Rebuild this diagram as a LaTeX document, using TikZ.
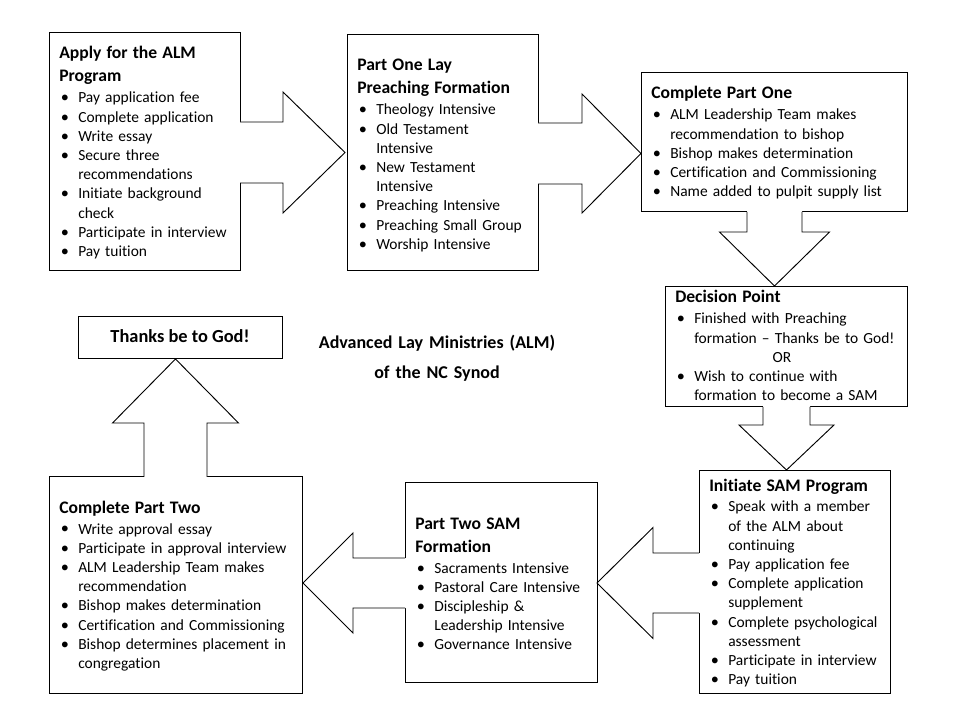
\documentclass[tikz,border=0pt]{standalone}
\usepackage{fontspec}
\setmainfont{Carlito}[Ligatures={NoCommon}]
\setlength\parskip{0pt}
\newlength\itmind \setlength\itmind{14.25pt}
\newcommand\itm[1]{\par\noindent\hangindent=\itmind\relax\hangafter=1\relax\makebox[\itmind][l]{\hspace{1.2pt}\scalebox{1.05}{•}}#1\par}
\newcommand\ttl[1]{{\fontsize{13.2}{17.25}\selectfont\bfseries\noindent #1\par}\vspace{1.35pt}}
% block arrow: base x, base y, angle, head start, length, shaft half, head half
\newcommand\blockarrow[7]{%
\begin{scope}[shift={(#1,#2)}, rotate=#3]
\fill[white] (-1.3,-#6) -- (#4,-#6) -- (#4,-#7) -- (#5,0) -- (#4,#7) -- (#4,#6) -- (-1.3,#6) -- cycle;
\draw[arrowline] (0,-#6) -- (#4,-#6) -- (#4,-#7) -- (#5,0) -- (#4,#7) -- (#4,#6) -- (0,#6);
\end{scope}}
\tikzset{
  box/.style={draw=black, line width=0.75pt, fill=white, anchor=north west, inner sep=0pt, outer sep=0pt},
  arrowline/.style={draw=black, line width=0.7pt, line join=miter},
  txt/.style={anchor=base west, text width=260pt, align=left, inner sep=0pt,
    font=\fontsize{11.6}{14.4}\selectfont},
}
\begin{document}
\begin{tikzpicture}[x=0.75pt,y=-0.75pt]
\useasboundingbox[fill=white] (0,0) rectangle (957,716);
% boxes
\node[box, minimum width=143.25pt, minimum height=178.5pt] (b1) at (49,33) {};
\node[box, minimum width=143.25pt, minimum height=177pt] (b2) at (347,35) {};
\node[box, minimum width=199.5pt, minimum height=104.25pt] (b3) at (641,73) {};
\node[box, minimum width=181.5pt, minimum height=90pt] (b4) at (665,287) {};
\node[box, minimum width=143.25pt, minimum height=166.5pt] (b5) at (699,471) {};
\node[box, minimum width=144pt, minimum height=149.25pt] (b6) at (405,483) {};
\node[box, minimum width=189.75pt, minimum height=162pt] (b7) at (49,477) {};
\node[box, minimum width=153pt, minimum height=31.5pt] (b8) at (78,317) {};
% block arrows
\blockarrow{240}{152.5}{0}{43}{105}{30.5}{60.5}
\blockarrow{538}{153.5}{0}{44}{103}{30.5}{59.5}
\blockarrow{774.5}{212}{-90}{20}{74}{27.5}{55}
\blockarrow{786.5}{407}{-90}{18}{63}{23.5}{47.5}
\blockarrow{699}{583}{180}{46}{102}{30}{55.5}
\blockarrow{405}{583}{180}{52}{102}{25}{50}
\blockarrow{175.5}{477}{90}{54}{118}{31.5}{63}
% texts
\node[txt] (t1) at (59,59) {\ttl{Apply for the ALM\newline Program}\itm{Pay application fee}\itm{Complete application}\itm{Write essay}\itm{Secure three\newline recommendations}\itm{Initiate background\newline check}\itm{Participate in interview}\itm{Pay tuition}};
\node[txt] (t2) at (357,71) {\ttl{Part One Lay\newline Preaching Formation}\itm{Theology Intensive}\itm{Old Testament\newline Intensive}\itm{New Testament\newline Intensive}\itm{Preaching Intensive}\itm{Preaching Small Group}\itm{Worship Intensive}};
\node[txt] (t3) at (651,99) {\ttl{Complete Part One}\itm{ALM Leadership Team makes\newline recommendation to bishop}\itm{Bishop makes determination}\itm{Certification and Commissioning}\itm{Name added to pulpit supply list}};
\node[txt] (t4) at (675,303) {\ttl{Decision Point}\itm{Finished with Preaching\newline formation – Thanks be to God!}\noindent\hspace*{73pt}OR\par\itm{Wish to continue with\newline formation to become a SAM}};
\node[txt] (t5) at (709,491) {\ttl{Initiate SAM Program}\itm{Speak with a member\newline of the ALM about\newline continuing}\itm{Pay application fee}\itm{Complete application\newline supplement}\itm{Complete psychological\newline assessment}\itm{Participate in interview}\itm{Pay tuition}};
\node[txt] (t6) at (415,529) {\ttl{Part Two SAM\newline Formation}\itm{Sacraments Intensive}\itm{Pastoral Care Intensive}\itm{Discipleship \&\newline Leadership Intensive}\itm{Governance Intensive}};
\node[txt] (t7) at (59,513) {\ttl{Complete Part Two}\itm{Write approval essay}\itm{Participate in approval interview}\itm{ALM Leadership Team makes\newline recommendation}\itm{Bishop makes determination}\itm{Certification and Commissioning}\itm{Bishop determines placement in\newline congregation}};
\node[anchor=base, inner sep=0pt, font=\fontsize{13.8}{16}\selectfont\bfseries] (t8) at (180,343) {Thanks be to God!};
\node[anchor=base, text width=300pt, align=center, inner sep=0pt, font=\fontsize{13.5}{22.5}\selectfont\bfseries] (title) at (437,349) {Advanced Lay Ministries (ALM)\\of the NC Synod};
\end{tikzpicture}
\end{document}
